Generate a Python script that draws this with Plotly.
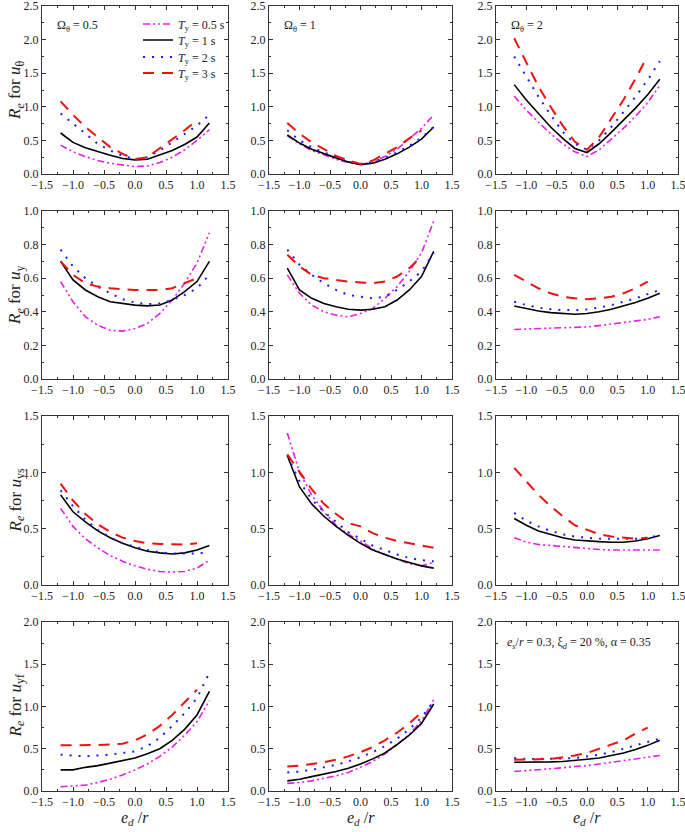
import plotly.graph_objects as go

W, H = 685, 832

# x values (e_d / r)
X = [-1.2, -1.0, -0.8, -0.6, -0.4, -0.2, 0.0, 0.2, 0.4, 0.6, 0.8, 1.0, 1.2]

# Omega labels for columns
omega_labels = ["0.5", "1", "2"]
periods = ["0.5", "1", "2", "3"]

# ---- Row 1: R_e for u_theta  (columns: Omega = 0.5, 1, 2)
uth_t05 = [[0.43, 0.33, 0.26, 0.20, 0.16, 0.13, 0.11, 0.12, 0.17, 0.25, 0.36, 0.50, 0.66],
           [0.57, 0.45, 0.35, 0.28, 0.22, 0.17, 0.14, 0.18, 0.26, 0.37, 0.52, 0.68, 0.88],
           [1.16, 0.95, 0.77, 0.60, 0.45, 0.33, 0.26, 0.36, 0.52, 0.68, 0.86, 1.06, 1.32]]
uth_t1 = [[0.61, 0.47, 0.39, 0.33, 0.28, 0.23, 0.21, 0.22, 0.28, 0.35, 0.44, 0.55, 0.76],
          [0.58, 0.46, 0.37, 0.30, 0.24, 0.18, 0.14, 0.16, 0.22, 0.30, 0.40, 0.52, 0.70],
          [1.33, 1.10, 0.90, 0.70, 0.53, 0.38, 0.32, 0.45, 0.62, 0.80, 0.98, 1.18, 1.41]]
uth_t2 = [[0.90, 0.75, 0.60, 0.45, 0.35, 0.27, 0.22, 0.25, 0.35, 0.47, 0.60, 0.72, 0.88],
          [0.65, 0.50, 0.40, 0.32, 0.26, 0.19, 0.15, 0.18, 0.24, 0.32, 0.42, 0.54, 0.70],
          [1.75, 1.45, 1.15, 0.88, 0.63, 0.45, 0.36, 0.50, 0.70, 0.92, 1.15, 1.40, 1.68]]
uth_t3 = [[1.08, 0.88, 0.70, 0.55, 0.40, 0.30, 0.22, 0.25, 0.38, 0.52, 0.65, 0.80],
          [0.76, 0.60, 0.47, 0.37, 0.27, 0.20, 0.15, 0.20, 0.30, 0.40, 0.53, 0.65],
          [2.02, 1.65, 1.30, 1.00, 0.72, 0.48, 0.36, 0.55, 0.82, 1.10, 1.42, 1.76]]

# ---- Row 2: R_e for u_y
uy_t05 = [[0.58, 0.46, 0.37, 0.32, 0.29, 0.285, 0.30, 0.33, 0.39, 0.47, 0.57, 0.69, 0.87],
          [0.62, 0.51, 0.44, 0.40, 0.38, 0.37, 0.39, 0.42, 0.48, 0.55, 0.64, 0.75, 0.94],
          [0.295, 0.297, 0.30, 0.302, 0.305, 0.307, 0.31, 0.318, 0.328, 0.338, 0.348, 0.355, 0.37]]
uy_t1 = [[0.70, 0.59, 0.53, 0.49, 0.46, 0.45, 0.44, 0.435, 0.44, 0.47, 0.52, 0.58, 0.70],
         [0.66, 0.53, 0.48, 0.45, 0.43, 0.415, 0.41, 0.415, 0.43, 0.47, 0.53, 0.61, 0.76],
         [0.435, 0.42, 0.405, 0.395, 0.39, 0.385, 0.39, 0.40, 0.415, 0.435, 0.455, 0.48, 0.51]]
uy_t2 = [[0.77, 0.67, 0.60, 0.55, 0.51, 0.475, 0.455, 0.445, 0.45, 0.47, 0.50, 0.54, 0.62],
         [0.77, 0.68, 0.62, 0.57, 0.53, 0.50, 0.49, 0.48, 0.49, 0.53, 0.58, 0.64, 0.75],
         [0.46, 0.44, 0.425, 0.415, 0.41, 0.41, 0.415, 0.425, 0.44, 0.46, 0.48, 0.505, 0.53]]
uy_t3 = [[0.70, 0.62, 0.57, 0.55, 0.54, 0.535, 0.53, 0.53, 0.53, 0.54, 0.57, 0.60],
         [0.74, 0.67, 0.62, 0.60, 0.59, 0.58, 0.575, 0.57, 0.58, 0.61, 0.66, 0.73],
         [0.62, 0.58, 0.54, 0.51, 0.49, 0.48, 0.475, 0.48, 0.49, 0.51, 0.54, 0.58]]

# ---- Row 3: R_e for u_ys
uys_t05 = [[0.68, 0.52, 0.41, 0.33, 0.26, 0.21, 0.17, 0.14, 0.12, 0.115, 0.12, 0.15, 0.22],
           [1.35, 1.00, 0.80, 0.65, 0.53, 0.45, 0.39, 0.32, 0.27, 0.23, 0.19, 0.17, 0.20],
           [0.42, 0.38, 0.36, 0.35, 0.34, 0.33, 0.325, 0.315, 0.31, 0.31, 0.31, 0.31, 0.31]]
uys_t1 = [[0.80, 0.65, 0.56, 0.48, 0.42, 0.37, 0.33, 0.30, 0.285, 0.275, 0.285, 0.31, 0.35],
          [1.15, 0.87, 0.72, 0.61, 0.52, 0.44, 0.37, 0.31, 0.27, 0.23, 0.20, 0.17, 0.15],
          [0.59, 0.53, 0.48, 0.45, 0.42, 0.40, 0.39, 0.385, 0.38, 0.38, 0.39, 0.41, 0.44]]
uys_t2 = [[0.84, 0.70, 0.58, 0.49, 0.42, 0.37, 0.34, 0.31, 0.29, 0.28, 0.28, 0.28, 0.29],
          [1.15, 0.92, 0.76, 0.65, 0.56, 0.47, 0.41, 0.35, 0.31, 0.27, 0.24, 0.22, 0.21],
          [0.64, 0.57, 0.52, 0.48, 0.45, 0.43, 0.42, 0.41, 0.41, 0.41, 0.41, 0.42, 0.44]]
uys_t3 = [[0.90, 0.75, 0.63, 0.54, 0.47, 0.42, 0.39, 0.37, 0.365, 0.36, 0.36, 0.37],
          [1.16, 1.00, 0.85, 0.72, 0.63, 0.55, 0.52, 0.46, 0.42, 0.39, 0.37, 0.35, 0.33],
          [1.04, 0.92, 0.80, 0.70, 0.61, 0.53, 0.49, 0.45, 0.43, 0.42, 0.41, 0.42]]

# ---- Row 4: R_e for u_yf
uyf_t05 = [[0.05, 0.06, 0.07, 0.10, 0.14, 0.19, 0.25, 0.32, 0.41, 0.52, 0.66, 0.82, 1.07],
           [0.09, 0.10, 0.12, 0.15, 0.18, 0.22, 0.28, 0.35, 0.44, 0.55, 0.67, 0.83, 1.08],
           [0.23, 0.24, 0.25, 0.26, 0.275, 0.29, 0.30, 0.32, 0.34, 0.36, 0.38, 0.40, 0.42]]
uyf_t1 = [[0.25, 0.25, 0.28, 0.30, 0.33, 0.36, 0.39, 0.44, 0.50, 0.60, 0.73, 0.90, 1.18],
          [0.12, 0.14, 0.17, 0.20, 0.23, 0.27, 0.32, 0.38, 0.45, 0.55, 0.66, 0.80, 1.03],
          [0.34, 0.34, 0.34, 0.345, 0.35, 0.36, 0.375, 0.39, 0.42, 0.45, 0.49, 0.54, 0.60]]
uyf_t2 = [[0.43, 0.42, 0.41, 0.42, 0.43, 0.45, 0.47, 0.53, 0.63, 0.77, 0.92, 1.10, 1.40],
          [0.22, 0.23, 0.25, 0.28, 0.31, 0.35, 0.40, 0.46, 0.53, 0.62, 0.73, 0.87, 1.06],
          [0.39, 0.38, 0.38, 0.38, 0.385, 0.39, 0.41, 0.43, 0.46, 0.50, 0.54, 0.58, 0.62]]
uyf_t3 = [[0.54, 0.54, 0.54, 0.545, 0.55, 0.56, 0.60, 0.67, 0.77, 0.90, 1.05, 1.20],
          [0.29, 0.30, 0.32, 0.34, 0.37, 0.41, 0.46, 0.52, 0.60, 0.69, 0.80, 0.93],
          [0.37, 0.37, 0.375, 0.38, 0.40, 0.42, 0.45, 0.50, 0.55, 0.60, 0.68, 0.75]]

rows = [
    (uth_t05, uth_t1, uth_t2, uth_t3),
    (uy_t05, uy_t1, uy_t2, uy_t3),
    (uys_t05, uys_t1, uys_t2, uys_t3),
    (uyf_t05, uyf_t1, uyf_t2, uyf_t3),
]
y_ranges = [[0, 2.5], [0, 1.0], [0, 1.5], [0, 2.0]]
y_dticks = [0.5, 0.2, 0.5, 0.5]
y_titles = ["<i>R</i><sub><i>e</i></sub> for <i>u</i><sub>θ</sub>",
            "<i>R</i><sub><i>e</i></sub> for <i>u</i><sub>y</sub>",
            "<i>R</i><sub><i>e</i></sub> for <i>u</i><sub>ys</sub>",
            "<i>R</i><sub><i>e</i></sub> for <i>u</i><sub>yf</sub>"]

styles = [
    dict(color="#e81ee8", width=1.6, dash="7px,3px,2px,3px,2px,3px"),
    dict(color="#000000", width=1.6, dash="solid"),
    dict(color="#1a1aff", width=2.0, dash="2px,7px"),
    dict(color="#ee1111", width=2.0, dash="11px,8px"),
]

col_px = [(42, 228), (269, 452), (496, 678)]
row_px = [(6, 174), (211, 379), (416, 585), (622, 791)]
legend_rows_px = [24, 40, 57, 73]
legend_names = ["legend", "legend2", "legend3", "legend4"]

FONT = "Liberation Serif"

fig = go.Figure()
layout = {}
annotations = []

for r in range(4):
    for c in range(3):
        idx = r * 3 + c + 1
        xa = "x" if idx == 1 else f"x{idx}"
        ya = "y" if idx == 1 else f"y{idx}"
        for s in range(4):
            ys = rows[r][s][c]
            fig.add_trace(go.Scatter(
                x=X[:len(ys)], y=ys, mode="lines",
                line=styles[s],
                name=f"<i>T</i><sub>y</sub> = {periods[s]} s",
                legend=legend_names[s],
                legendgroup=f"T{s}",
                showlegend=(idx == 1),
                xaxis=xa, yaxis=ya,
                hoverinfo="skip",
            ))
        x0, x1 = col_px[c]
        yt, yb = row_px[r]
        axis_common = dict(
            showline=True, linecolor="#333", linewidth=1, mirror="allticks",
            ticks="inside", ticklen=4, tickwidth=1, tickcolor="#333",
            showgrid=False, zeroline=False, automargin=False,
            ticklabeloverflow="allow",
            tickfont=dict(family=FONT, size=12, color="#222"),
            fixedrange=True,
        )
        layout["xaxis" if idx == 1 else f"xaxis{idx}"] = dict(
            axis_common,
            domain=[x0 / W, x1 / W], range=[-1.5, 1.5],
            tickmode="linear", tick0=-1.5, dtick=0.5, tickformat=".1f",
            minor=dict(ticks="inside", ticklen=2, tickcolor="#333", dtick=0.25, tick0=-1.5),
            anchor=ya,
        )
        layout["yaxis" if idx == 1 else f"yaxis{idx}"] = dict(
            axis_common,
            domain=[1 - yb / H, 1 - yt / H], range=y_ranges[r],
            tickmode="linear", tick0=0, dtick=y_dticks[r], tickformat=".1f",
            minor=dict(ticks="inside", ticklen=2, tickcolor="#333", dtick=y_dticks[r] / 2, tick0=0),
            anchor=xa,
        )
        if r == 0:
            annotations.append(dict(
                xref="paper", yref="paper", x=(x0 + 13) / W, y=1 - 26 / H,
                xanchor="left", yanchor="middle", showarrow=False,
                text=f"Ω<sub>θ</sub> = {omega_labels[c]}",
                font=dict(family=FONT, size=12, color="#222"),
            ))
        if r == 3:
            annotations.append(dict(
                xref="paper", yref="paper", x=(x0 + x1) / 2 / W, y=1 - 818 / H,
                xanchor="center", yanchor="middle", showarrow=False,
                text="<i>e</i><sub><i>d</i></sub> /<i>r</i>",
                font=dict(family=FONT, size=16, color="#222"),
            ))
    annotations.append(dict(
        xref="paper", yref="paper", x=16 / W, y=1 - (row_px[r][0] + row_px[r][1]) / 2 / H,
        xanchor="center", yanchor="middle", showarrow=False, textangle=-90,
        text=y_titles[r],
        font=dict(family=FONT, size=17, color="#222"),
    ))

annotations.append(dict(
    xref="paper", yref="paper", x=505 / W, y=1 - 643 / H,
    xanchor="left", yanchor="middle", showarrow=False,
    text="<i>e</i><sub><i>s</i></sub>/<i>r</i> = 0.3, ξ<sub><i>d</i></sub> = 20 %, α = 0.35",
    font=dict(family=FONT, size=12, color="#222"),
))

legend_layout = {}
for s, lname in enumerate(legend_names):
    legend_layout[lname] = dict(
        x=138 / W, y=1 - legend_rows_px[s] / H, xanchor="left", yanchor="middle",
        bgcolor="rgba(0,0,0,0)", borderwidth=0,
        font=dict(family=FONT, size=12, color="#222"),
        itemwidth=30, tracegroupgap=0,
    )

fig.update_layout(
    width=W, height=H,
    margin=dict(l=0, r=0, t=0, b=0, autoexpand=False),
    paper_bgcolor="white", plot_bgcolor="white",
    showlegend=True,
    annotations=annotations,
    **legend_layout,
    **layout,
)

fig.write_html(
    "out.html",
    config={"displayModeBar": False, "staticPlot": True},
    post_script="document.body.style.margin='0';document.body.style.overflow='hidden';",
)
